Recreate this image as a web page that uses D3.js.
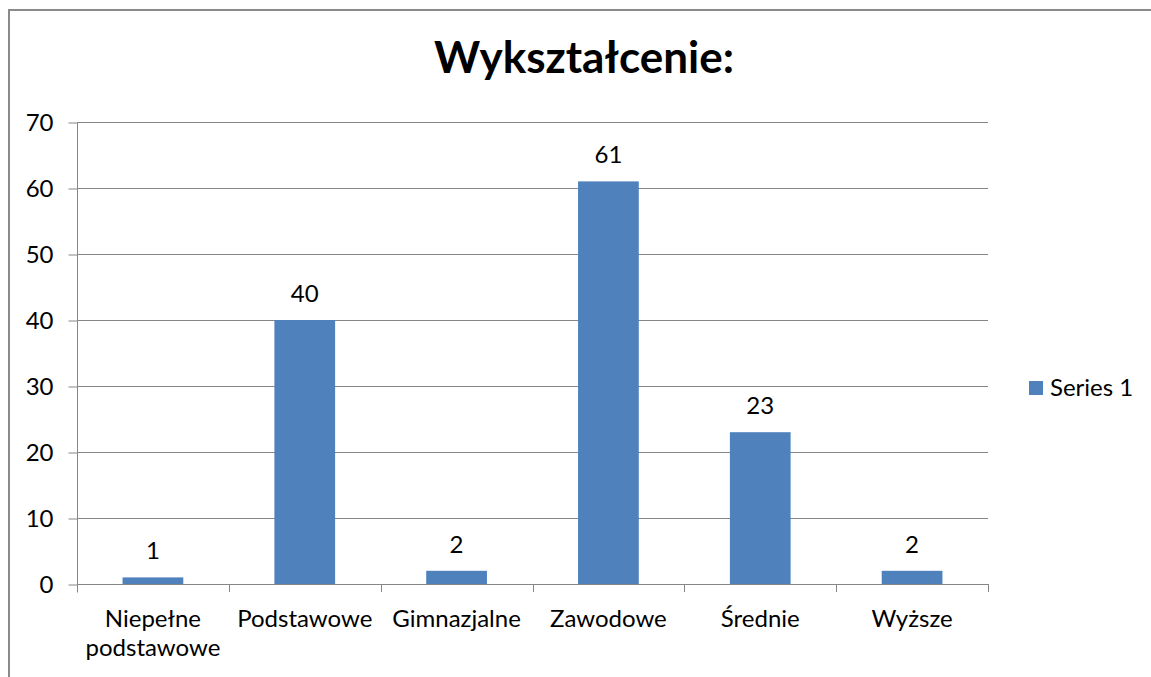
<!DOCTYPE html>
<html>
<head>
<meta charset="utf-8">
<script src="https://cdn.jsdelivr.net/npm/d3@7"></script>
<style>
  body { margin: 0; background: #fff; }
  text { font-family: Lato, "Open Sans", sans-serif; fill: #000; }
</style>
</head>
<body>
<div id="chart"></div>
<script>
// datos del grafico
const title = "Wykształcenie:";
const categories = ["Niepełne podstawowe", "Podstawowe", "Gimnazjalne", "Zawodowe", "Średnie", "Wyższe"];
const values = [1, 40, 2, 61, 23, 2];
const yTicks = [0, 10, 20, 30, 40, 50, 60, 70];
const seriesName = "Series 1";

const W = 1151, H = 677;
const plot = {left: 77, right: 988, top: 122, bottom: 584};
const barColor = "#4f81bd";
const gridColor = "#868686";

const svg = d3.select("#chart").append("svg")
  .attr("width", W).attr("height", H);

// marco del grafico
svg.append("rect")
  .attr("x", 9).attr("y", 10)
  .attr("width", W + 20).attr("height", H + 20)
  .attr("fill", "none")
  .attr("stroke", "#8a8a8a")
  .attr("stroke-width", 2);

// titulo
svg.append("text")
  .attr("x", 584).attr("y", 73)
  .attr("text-anchor", "middle")
  .style("font-size", "44px")
  .style("font-weight", "bold")
  .text(title);

const x = d3.scaleBand()
  .domain(categories)
  .range([plot.left, plot.right])
  .paddingInner(0.6)
  .paddingOuter(0.3);

const y = d3.scaleLinear()
  .domain([0, 70])
  .range([plot.bottom, plot.top]);

const step = x.step();

// lineas de la cuadricula
svg.append("g").selectAll("line")
  .data(yTicks.filter(d => d > 0))
  .enter().append("line")
  .attr("x1", plot.left).attr("x2", plot.right)
  .attr("y1", d => Math.round(y(d)) + 0.5).attr("y2", d => Math.round(y(d)) + 0.5)
  .attr("stroke", gridColor);

// eje Y
const yAxis = svg.append("g")
  .attr("transform", `translate(${plot.left + 0.5},0.5)`)
  .call(d3.axisLeft(y).tickValues(yTicks).tickSize(9).tickPadding(15).tickFormat(d3.format("d")));
yAxis.select(".domain").attr("stroke", gridColor).attr("d", `M0,${plot.top}V${plot.bottom + 8}`);
yAxis.selectAll(".tick line").attr("stroke", gridColor);
yAxis.selectAll(".tick text")
  .style("font-size", "24px")
  .attr("fill", "#000")
  .attr("dy", "0.35em");

// barras
svg.append("g").selectAll("rect")
  .data(values)
  .enter().append("rect")
  .attr("x", (d, i) => x(categories[i]))
  .attr("y", d => y(d))
  .attr("width", x.bandwidth())
  .attr("height", d => y(0) - y(d))
  .attr("fill", barColor);

// etiquetas de valores
svg.append("g").selectAll("text")
  .data(values)
  .enter().append("text")
  .attr("x", (d, i) => x(categories[i]) + x.bandwidth() / 2)
  .attr("y", d => y(d) - 18)
  .attr("text-anchor", "middle")
  .style("font-size", "24px")
  .text(d => d);

// eje X
const xAxis = svg.append("g");
xAxis.append("line")
  .attr("x1", plot.left).attr("x2", plot.right)
  .attr("y1", plot.bottom + 0.5).attr("y2", plot.bottom + 0.5)
  .attr("stroke", gridColor);
xAxis.selectAll(".xtick")
  .data(d3.range(categories.length + 1))
  .enter().append("line")
  .attr("x1", i => Math.round(plot.left + i * step) + 0.5)
  .attr("x2", i => Math.round(plot.left + i * step) + 0.5)
  .attr("y1", plot.bottom).attr("y2", plot.bottom + 8)
  .attr("stroke", gridColor);

const labels = xAxis.selectAll(".xlabel")
  .data(categories)
  .enter().append("text")
  .attr("class", "xlabel")
  .attr("x", d => x(d) + x.bandwidth() / 2)
  .attr("y", plot.bottom + 43)
  .attr("text-anchor", "middle")
  .style("font-size", "24px")
  .text(d => d);

// partir etiquetas largas en dos lineas
labels.each(function(d) {
  const t = d3.select(this);
  if (this.getComputedTextLength() > step) {
    const words = d.split(" ");
    t.text(null);
    words.forEach((w, k) => {
      t.append("tspan")
        .attr("x", x(d) + x.bandwidth() / 2)
        .attr("dy", k === 0 ? 0 : 29)
        .text(w);
    });
  }
});

// leyenda
svg.append("rect")
  .attr("x", 1029).attr("y", 381)
  .attr("width", 14).attr("height", 14)
  .attr("fill", barColor);
svg.append("text")
  .attr("x", 1050).attr("y", 396)
  .style("font-size", "24px")
  .text(seriesName);
</script>
</body>
</html>
